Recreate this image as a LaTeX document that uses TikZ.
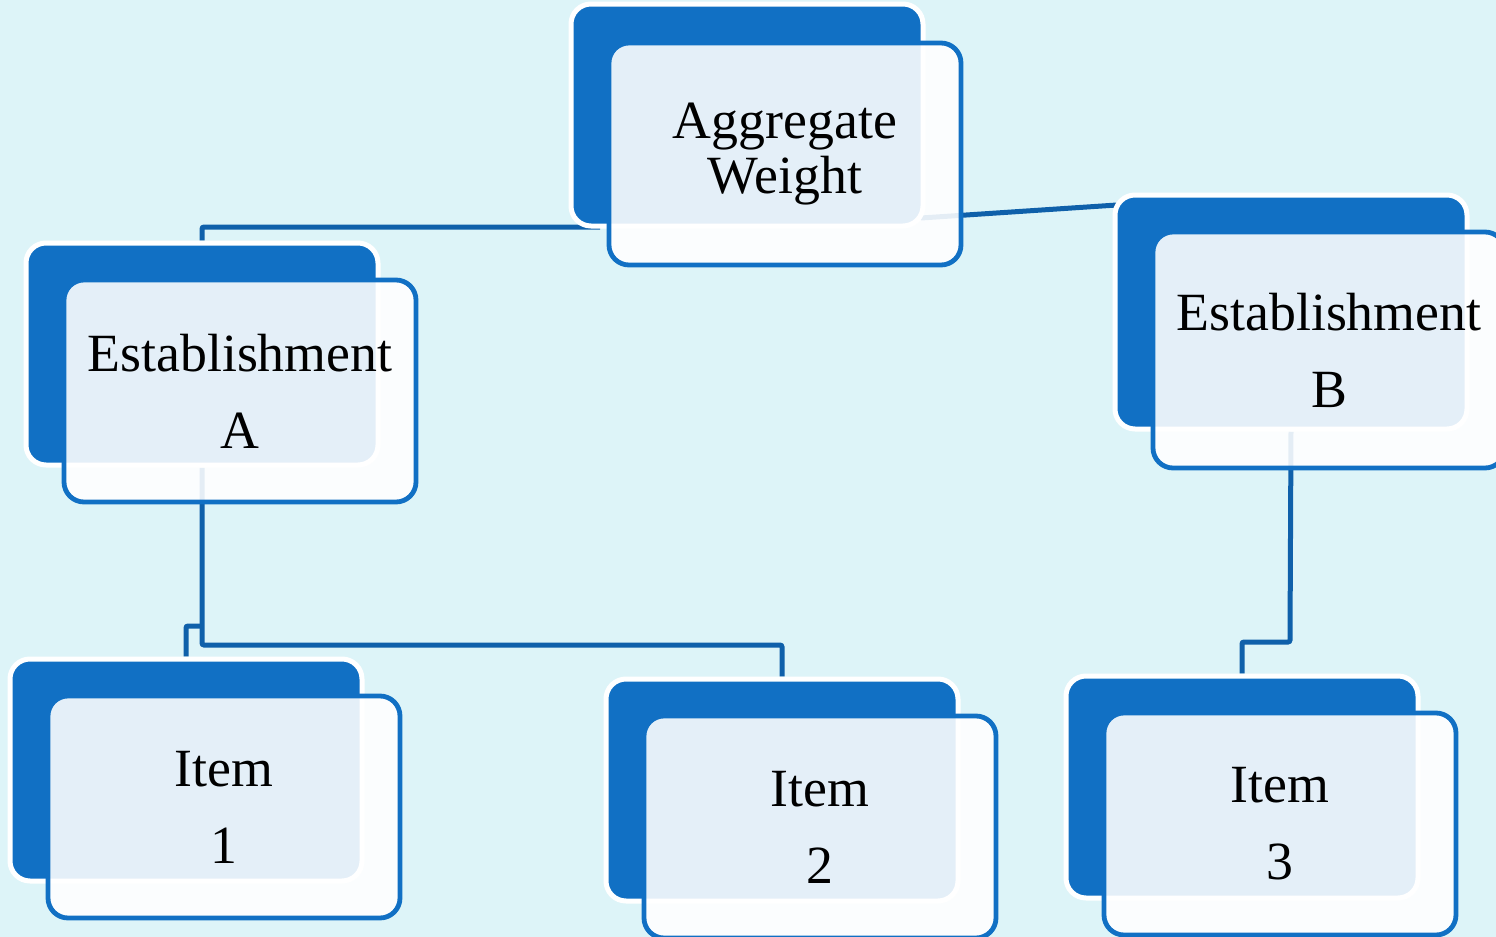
\documentclass[tikz,border=0pt]{standalone}
\usepackage{fontspec}
\setmainfont{Liberation Serif}
\usepackage{xcolor}
\usepackage{tikz}
\usetikzlibrary{shapes, positioning}

\definecolor{boxblue}{HTML}{1170C4}
\definecolor{linkblue}{HTML}{0F60AA}
\definecolor{paper}{HTML}{DDF4F8}

\pgfdeclarelayer{bg}
\pgfsetlayers{bg,main}

\tikzset{
	backbox/.style = {rectangle, rounded corners=10pt, fill=boxblue, draw=white,
		line width=2.5pt, minimum width=176pt, minimum height=111pt, inner sep=0pt},
	frontbox/.style = {rectangle, rounded corners=10pt, draw=boxblue, line width=2.4pt,
		fill=white, fill opacity=0.89, text opacity=1, minimum width=176pt,
		minimum height=111pt, inner sep=0pt, align=center,
		font=\fontsize{26.9}{38.5}\selectfont},
	link/.style = {draw=linkblue, line width=2.5pt, rounded corners=1pt}
}

\begin{document}
\begin{tikzpicture}[x=0.5pt, y=-0.5pt]
			\useasboundingbox (0,0) rectangle (1496,937);
			
			% back boxes
			\node [backbox] (aggback)   at (747,115)  {};
			\node [backbox] (estAback)  at (202,354)  {};
			\node [backbox, minimum height=117pt] (estBback)  at (1291,312) {};
			\node [backbox] (item1back) at (186,770)  {};
			\node [backbox] (item2back) at (782,790)  {};
			\node [backbox] (item3back) at (1242,787) {};
			
			% front boxes with the labels
			\node [frontbox, font=\fontsize{26.9}{27.5}\selectfont] (agg) at (785,154) {Aggregate\\Weight};
			\node [frontbox] (estA)  at (240,391)  {Establishment\\A};
			\node [frontbox, minimum height=118pt] (estB)  at (1329,350) {Establishment\\B};
			\node [frontbox] (item1) at (224,807)  {Item\\1};
			\node [frontbox] (item2) at (820,827)  {Item\\2};
			\node [frontbox] (item3) at (1280,824) {Item\\3};
			
			\coordinate (aggL) at (600,227);
			\coordinate (aggR) at (921,218);
			\coordinate (estBin) at (1117,205);
			\coordinate (estAfork) at (202,645);
			\coordinate (item1fork) at (202,626);
			\coordinate (estBfork) at (1290,642);
			
			\begin{pgfonlayer}{bg}
				\fill [paper] (0,0) rectangle (1496,937);
				
				\draw [link] (aggL) -| (estAback.north);
				\draw [link] (aggR) -- (estBin);
				
				\draw [link] (estAback.south) -- (estAfork) -| (item2back.north);
				\draw [link] (item1fork) -| (item1back.north);
				\draw [link] (estBback.south) -- (estBfork) -| (item3back.north);
			\end{pgfonlayer}
		\end{tikzpicture}
\end{document}
